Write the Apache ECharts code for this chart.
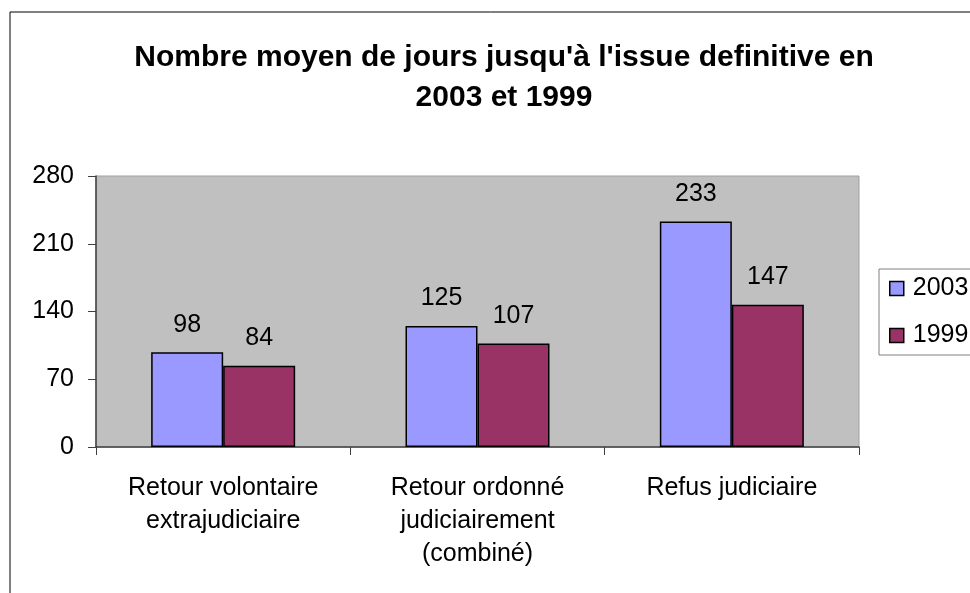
<!DOCTYPE html>
<html>
<head>
<meta charset="utf-8">
<script src="https://cdn.jsdelivr.net/npm/echarts@6/dist/echarts.min.js"></script>
<style>
html,body{margin:0;padding:0;background:#fff;}
#main{width:970px;height:593px;}
</style>
</head>
<body>
<div id="main"></div>
<script>
var categories = ['Retour volontaire\nextrajudiciaire', 'Retour ordonné\njudiciairement\n(combiné)', 'Refus judiciaire'];
var series2003 = [98, 125, 233];
var series1999 = [84, 107, 147];
var yTicks = [0, 70, 140, 210, 280];

var chart = echarts.init(document.getElementById('main'));
var font = 'Liberation Sans, Arial, sans-serif';

var option = {
    animation: false,
    backgroundColor: '#fff',
    title: {
        text: "Nombre moyen de jours jusqu'à l'issue definitive en\n2003 et 1999",
        left: 499,
        top: 33,
        textAlign: 'center',
        textStyle: {fontFamily: font, fontSize: 30, fontWeight: 'bold', color: '#000', lineHeight: 40}
    },
    legend: {
        orient: 'vertical',
        left: 889,
        top: 276,
        padding: 0,
        itemWidth: 14,
        itemHeight: 14,
        itemGap: 22,
        icon: 'rect',
        data: ['2003', '1999'],
        itemStyle: {borderColor: '#000', borderWidth: 1.5},
        textStyle: {fontFamily: font, fontSize: 25, color: '#000', lineHeight: 25, padding: [0, 0, 0, 4]}
    },
    grid: {
        left: 96, right: 111, top: 176, bottom: 146,
        show: true,
        backgroundColor: '#C0C0C0',
        borderColor: '#A0A0A0',
        borderWidth: 1
    },
    xAxis: {
        type: 'category',
        data: categories,
        axisLine: {lineStyle: {color: '#404040', width: 1.5}},
        axisTick: {show: true, length: 8, alignWithLabel: false, lineStyle: {color: '#404040'}},
        axisLabel: {fontFamily: font, fontSize: 25, color: '#000', margin: 25, lineHeight: 33, interval: 0}
    },
    yAxis: {
        type: 'value',
        min: yTicks[0],
        max: yTicks[yTicks.length - 1],
        interval: 70,
        axisLine: {show: true, lineStyle: {color: '#404040', width: 1.5}},
        axisTick: {show: true, length: 8, lineStyle: {color: '#404040'}},
        splitLine: {show: false},
        axisLabel: {fontFamily: font, fontSize: 25, color: '#000', margin: 22}
    },
    series: [
        {
            name: '2003',
            type: 'bar',
            data: series2003,
            barWidth: 72,
            barGap: '0%',
            itemStyle: {color: '#9999FF', borderColor: '#000', borderWidth: 1.5},
            label: {show: true, position: 'top', distance: 15, fontFamily: font, fontSize: 25, color: '#000'}
        },
        {
            name: '1999',
            type: 'bar',
            data: series1999,
            barWidth: 72,
            barGap: '0%',
            itemStyle: {color: '#993366', borderColor: '#000', borderWidth: 1.5},
            label: {show: true, position: 'top', distance: 15, fontFamily: font, fontSize: 25, color: '#000'}
        }
    ],
    graphic: [
        {
            type: 'rect',
            shape: {x: 10, y: 12, width: 1200, height: 1000},
            style: {fill: 'none', stroke: '#000', lineWidth: 1},
            silent: true
        },
        {
            type: 'rect',
            shape: {x: 879, y: 269, width: 200, height: 86},
            style: {fill: 'none', stroke: '#808080', lineWidth: 1},
            silent: true
        }
    ]
};
chart.setOption(option);
</script>
</body>
</html>
